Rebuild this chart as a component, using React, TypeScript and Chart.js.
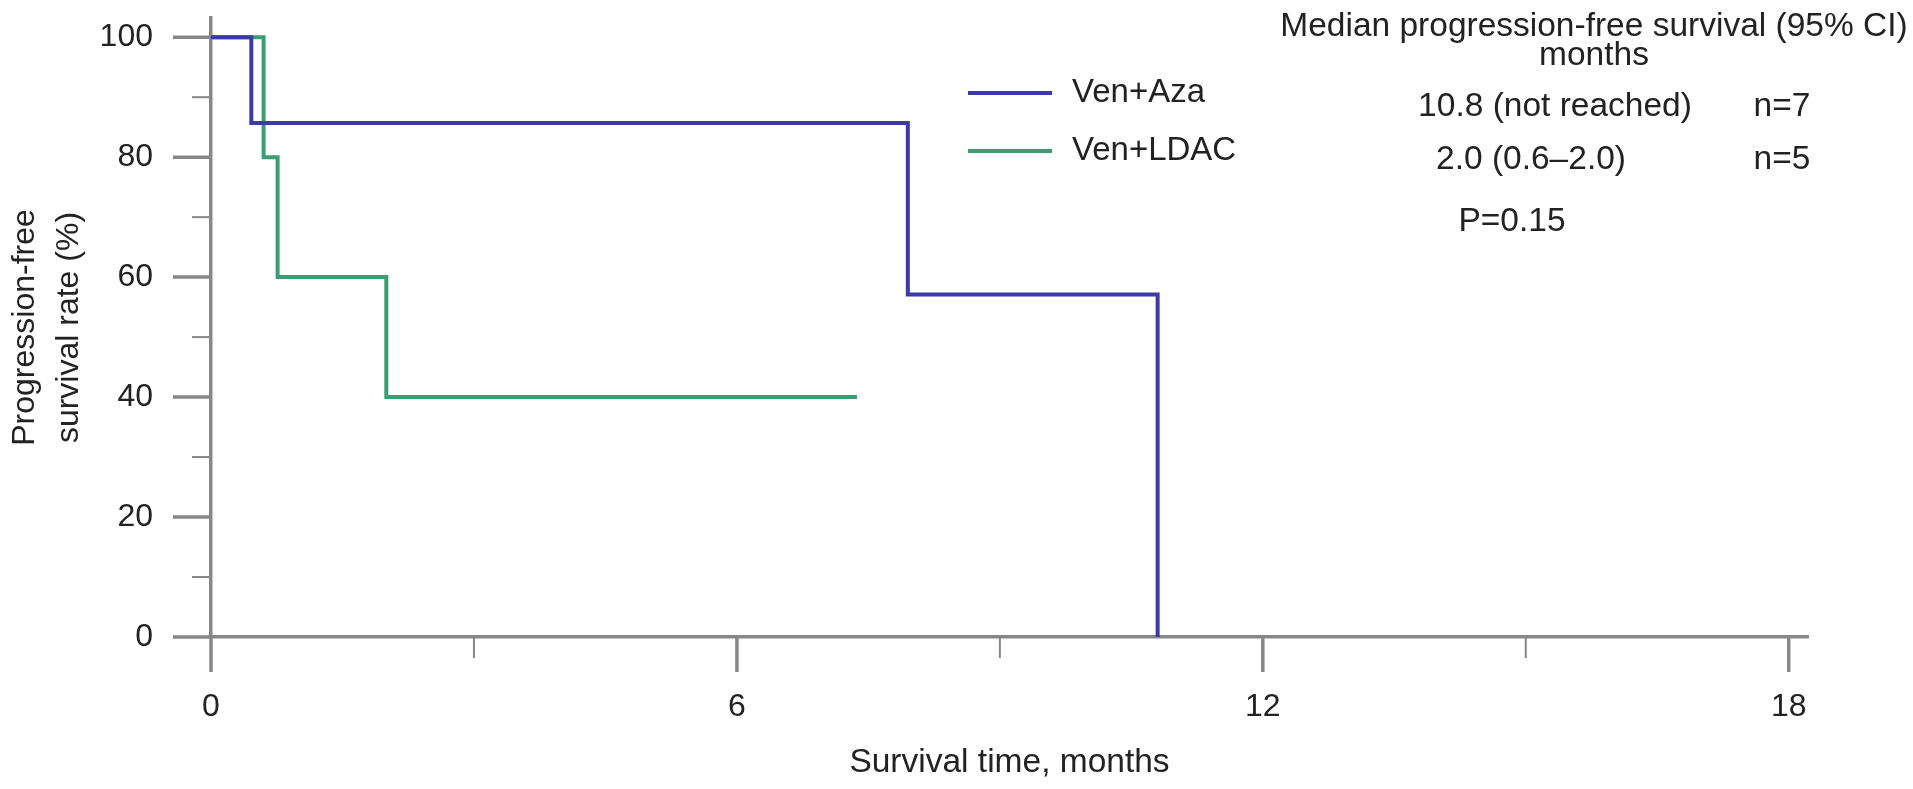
import React, { useEffect, useRef } from 'react';
import { Chart, registerables } from 'chart.js';

Chart.register(...registerables);

// ---- data ----
const seriesLabels = ['Ven+Aza', 'Ven+LDAC'];
const azaTimes = [0, 0.46, 7.95, 10.8];
const azaSurvival = [100, 85.7, 57.1, 0];
const ldacTimes = [0, 0.6, 0.76, 2.0, 7.37];
const ldacSurvival = [100, 80, 60, 40, 40];

const xMajorTicks = [0, 6, 12, 18];
const xMinorTicks = [3, 9, 15];
const yMajorTicks = [0, 20, 40, 60, 80, 100];
const yMinorTicks = [10, 30, 50, 70, 90];

const xTitle = 'Survival time, months';
const yTitle = ['Progression-free', 'survival rate (%)'];

const headerLines = ['Median progression-free survival (95% CI)', 'months'];
const medianTexts = ['10.8 (not reached)', '2.0 (0.6\u20132.0)'];
const nTexts = ['n=7', 'n=5'];
const pText = 'P=0.15';

// ---- styles ----
const FONT = '"Liberation Sans", Arial, Helvetica, sans-serif';
const FONT_SIZE = 32;
const NOTE_SIZE = 33.5;
const TEXT_COLOR = '#222222';
const AXIS_COLOR = '#878787';
const BLUE = '#3b3aa8';
const GREEN = '#3a9e72';
const LINE_W = 4;

const toPoints = (xs: number[], ys: number[]) => xs.map((x, i) => ({ x, y: ys[i] }));

const decorPlugin = {
  id: 'kmDecor',
  afterDraw(chart: any) {
    const ctx: CanvasRenderingContext2D = chart.ctx;
    const xs = chart.scales.x;
    const ys = chart.scales.y;
    const x0 = xs.getPixelForValue(0);
    const y0 = ys.getPixelForValue(0);
    ctx.save();
    ctx.strokeStyle = AXIS_COLOR;
    ctx.lineCap = 'butt';
    const drawY = (vals: number[], len: number, w: number) => {
      ctx.lineWidth = w;
      vals.forEach((v) => {
        const p = ys.getPixelForValue(v);
        ctx.beginPath();
        ctx.moveTo(x0 - len, p);
        ctx.lineTo(x0, p);
        ctx.stroke();
      });
    };
    const drawX = (vals: number[], len: number, w: number) => {
      ctx.lineWidth = w;
      vals.forEach((v) => {
        const p = xs.getPixelForValue(v);
        ctx.beginPath();
        ctx.moveTo(p, y0);
        ctx.lineTo(p, y0 + len);
        ctx.stroke();
      });
    };
    drawY(yMajorTicks, 38, 3.5);
    drawY(yMinorTicks, 19, 2);
    drawX(xMajorTicks, 35, 3.5);
    drawX(xMinorTicks, 21, 2);

    // legend
    ctx.font = `33px ${FONT}`;
    ctx.textBaseline = 'middle';
    ctx.fillStyle = TEXT_COLOR;
    const legendY = [93, 151];
    chart.data.datasets.forEach((ds: any, i: number) => {
      ctx.strokeStyle = ds.borderColor;
      ctx.lineWidth = LINE_W;
      ctx.beginPath();
      ctx.moveTo(968, legendY[i]);
      ctx.lineTo(1052, legendY[i]);
      ctx.stroke();
      ctx.textAlign = 'left';
      ctx.fillText(ds.label, 1072, legendY[i]);
    });

    // annotation block
    ctx.font = `${NOTE_SIZE}px ${FONT}`;
    ctx.textAlign = 'center';
    ctx.fillText(headerLines[0], 1594, 27);
    ctx.fillText(headerLines[1], 1594, 56);
    ctx.fillText(medianTexts[0], 1555, 107);
    ctx.fillText(medianTexts[1], 1531, 160);
    ctx.fillText(nTexts[0], 1782, 107);
    ctx.fillText(nTexts[1], 1782, 160);
    ctx.fillText(pText, 1512, 222);
    ctx.restore();
  },
};

export default function App() {
  const ref = useRef<HTMLCanvasElement | null>(null);
  useEffect(() => {
    document.body.style.margin = '0';
    if (!ref.current) return;
    const font = { family: FONT, size: FONT_SIZE };
    const chart = new Chart(ref.current, {
      type: 'line',
      data: {
        datasets: [
          {
            label: seriesLabels[0],
            data: toPoints(azaTimes, azaSurvival),
            borderColor: BLUE,
            backgroundColor: BLUE,
            borderWidth: LINE_W,
            stepped: 'before',
            pointRadius: 0,
            fill: false,
            borderJoinStyle: 'miter',
          },
          {
            label: seriesLabels[1],
            data: toPoints(ldacTimes, ldacSurvival),
            borderColor: GREEN,
            backgroundColor: GREEN,
            borderWidth: LINE_W,
            stepped: 'before',
            pointRadius: 0,
            fill: false,
            borderJoinStyle: 'miter',
          },
        ],
      },
      options: {
        animation: false,
        responsive: false,
        devicePixelRatio: 1,
        layout: { padding: { left: 0, top: 18, right: 105, bottom: 0 } },
        plugins: { legend: { display: false }, tooltip: { enabled: false } },
        scales: {
          x: {
            type: 'linear',
            min: 0,
            max: 18.22,
            afterBuildTicks: (s: any) => {
              s.ticks = xMajorTicks.map((v) => ({ value: v }));
            },
            afterFit: (s: any) => {
              s.height = 152;
              s.paddingLeft = 0;
              s.paddingRight = 0;
            },
            grid: { display: false, drawTicks: false },
            border: { display: true, color: AXIS_COLOR, width: 3.5 },
            ticks: {
              font,
              color: TEXT_COLOR,
              padding: 51,
              maxRotation: 0,
              autoSkip: false,
              callback: (v: any) => String(v),
            },
            title: {
              display: true,
              text: xTitle,
              font: { family: FONT, size: NOTE_SIZE },
              color: TEXT_COLOR,
              padding: { top: 0, bottom: 6 },
            },
          },
          y: {
            type: 'linear',
            min: 0,
            max: 103.2,
            afterBuildTicks: (s: any) => {
              s.ticks = yMajorTicks.map((v) => ({ value: v }));
            },
            afterFit: (s: any) => {
              s.width = 211;
              s.paddingTop = 0;
              s.paddingBottom = 0;
            },
            grid: { display: false, drawTicks: false },
            border: { display: true, color: AXIS_COLOR, width: 3.5 },
            ticks: {
              font,
              color: TEXT_COLOR,
              padding: 58,
              autoSkip: false,
              callback: (v: any) => String(v),
            },
            title: {
              display: true,
              text: yTitle,
              font: { family: FONT, size: FONT_SIZE, lineHeight: 1.375 },
              color: TEXT_COLOR,
              padding: { top: 3, bottom: 0 },
            },
          },
        },
      },
      plugins: [decorPlugin],
    });
    return () => chart.destroy();
  }, []);
  return (
    <div style={{ position: 'absolute', left: 0, top: 0, width: 1913, height: 789, background: '#fff' }}>
      <canvas ref={ref} width={1913} height={789} />
    </div>
  );
}
